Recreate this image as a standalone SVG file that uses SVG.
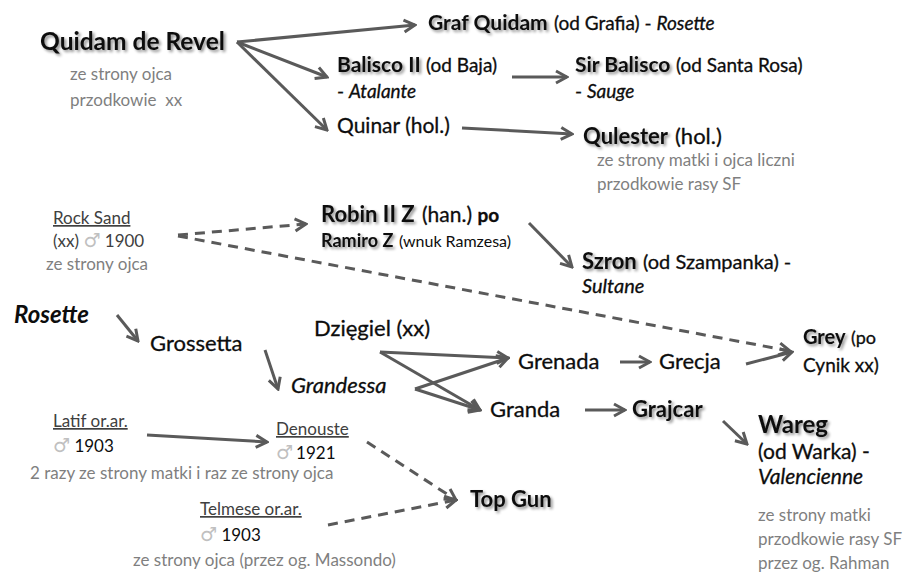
<svg xmlns="http://www.w3.org/2000/svg" width="903" height="573" viewBox="0 0 903 573">
<defs>
<filter id="sh" x="-5%" y="-20%" width="115%" height="150%">
<feGaussianBlur in="SourceAlpha" stdDeviation="1.4"/>
<feOffset dx="1.5" dy="1.5" result="b"/>
<feComponentTransfer><feFuncA type="linear" slope="0.45"/></feComponentTransfer>
<feMerge><feMergeNode/><feMergeNode in="SourceGraphic"/></feMerge>
</filter>
<marker id="ah" viewBox="0 0 16 16" refX="14" refY="8" markerWidth="16" markerHeight="16" markerUnits="userSpaceOnUse" orient="auto">
<path d="M3,2 L14,8 L3,14" fill="none" stroke="#5a5a5a" stroke-width="3"/>
</marker>
</defs>
<style>
text{font-family:Lato,"Open Sans","Liberation Sans",sans-serif;fill:#0d0d0d}
.r{stroke:#0d0d0d;stroke-width:0.3}
.b{font-weight:bold}
.sh{filter:url(#sh)}
.i{font-style:italic}
.g{fill:#7f7f7f;font-size:17px}
.dk{fill:#404040}
.m{fill:#c0c0c0;stroke:none;font-family:"DejaVu Sans",sans-serif;font-size:19px}
.u{text-decoration:underline}
.c line{stroke:#5a5a5a;stroke-width:3;fill:none;marker-end:url(#ah)}
.c .d{stroke-dasharray:10,7}
</style>
<rect width="903" height="573" fill="#fff"/>
<g class="c" id="connectors">
<line x1="237" y1="42" x2="415" y2="25"/>
<line x1="237" y1="42" x2="327" y2="77"/>
<line x1="237" y1="42" x2="327" y2="130"/>
<line x1="512" y1="77" x2="567" y2="77"/>
<line x1="462" y1="128" x2="572" y2="134"/>
<line class="d" x1="178" y1="235" x2="306" y2="224"/>
<line class="d" x1="178" y1="236" x2="790" y2="351"/>
<line x1="529" y1="223" x2="572" y2="267"/>
<line x1="117" y1="315" x2="138" y2="341"/>
<line x1="265" y1="350" x2="278" y2="389"/>
<line x1="380" y1="352" x2="508" y2="358"/>
<line x1="380" y1="352" x2="480" y2="410"/>
<line x1="415" y1="389" x2="508" y2="358"/>
<line x1="415" y1="389" x2="480" y2="410"/>
<line x1="620" y1="362" x2="650" y2="362"/>
<line x1="746" y1="364" x2="792" y2="352"/>
<line x1="585" y1="410" x2="625" y2="410"/>
<line x1="723" y1="421" x2="747" y2="444"/>
<line x1="147" y1="435" x2="267" y2="442"/>
<line class="d" x1="367" y1="442" x2="456" y2="500"/>
<line class="d" x1="328" y1="525" x2="456" y2="500"/>
</g>
<g id="quidam">
<text class="b sh" x="40" y="50" font-size="24.5">Quidam de Revel</text>
<text class="g" x="70" y="80">ze strony ojca</text>
<text class="g" x="70" y="106" xml:space="preserve">przodkowie  xx</text>
</g>
<g id="graf">
<text class="b sh" x="428" y="30" font-size="21">Graf Quidam</text>
<text class="r" x="554" y="30" font-size="19">(od Grafia) - <tspan class="i">Rosette</tspan></text>
</g>
<g id="balisco">
<text class="b sh" x="337" y="72" font-size="21">Balisco II</text>
<text class="r" x="426" y="72" font-size="19">(od Baja)</text>
<text class="r" x="337" y="98" font-size="19">- <tspan class="i">Atalante</tspan></text>
</g>
<g id="sirbalisco">
<text class="b sh" x="575" y="72" font-size="21">Sir Balisco</text>
<text class="r" x="676" y="72" font-size="19">(od Santa Rosa)</text>
<text class="r" x="575" y="98" font-size="19">- <tspan class="i">Sauge</tspan></text>
</g>
<g id="quinar">
<text class="r" x="337" y="133" font-size="21">Quinar (hol.)</text>
</g>
<g id="qulester">
<text class="b sh" x="583" y="144" font-size="22">Qulester</text>
<text class="r" x="675" y="144" font-size="22">(hol.)</text>
<text class="g" x="597" y="166">ze strony matki i ojca liczni</text>
<text class="g" x="597" y="190">przodkowie rasy SF</text>
</g>
<g id="rocksand">
<text class="u dk" x="53" y="224" font-size="17">Rock Sand</text>
<text class="dk" x="53" y="247" font-size="17">(xx) <tspan class="m">♂</tspan> 1900</text>
<text class="g" x="46" y="270">ze strony ojca</text>
</g>
<g id="robin">
<text class="b sh" x="321" y="222" font-size="22">Robin II Z</text>
<text class="r" x="422" y="222" font-size="21">(han.) <tspan class="b" font-size="19">po</tspan></text>
<text class="b sh" x="321" y="247" font-size="18">Ramiro Z</text>
<text x="399" y="247" font-size="16">(wnuk Ramzesa)</text>
</g>
<g id="szron">
<text class="b sh" x="582" y="269" font-size="22">Szron</text>
<text class="r" x="643" y="269" font-size="20">(od Szampanka) -</text>
<text class="i r" x="582" y="293" font-size="20">Sultane</text>
</g>
<g id="rosette">
<text class="b i" x="14" y="323" font-size="24">Rosette</text>
</g>
<g id="grossetta">
<text class="r" x="150" y="351" font-size="22">Grossetta</text>
</g>
<g id="dziegiel">
<text class="r" x="314" y="336" font-size="22">Dzięgiel (xx)</text>
</g>
<g id="grandessa">
<text class="i r" x="291" y="393" font-size="22">Grandessa</text>
</g>
<g id="grenada">
<text class="r" x="518" y="369" font-size="22">Grenada</text>
</g>
<g id="grecja">
<text class="r" x="659" y="369" font-size="22">Grecja</text>
</g>
<g id="grey">
<text class="b sh" x="803" y="344" font-size="20">Grey</text>
<text class="r" x="851" y="344" font-size="18">(po</text>
<text class="r" x="803" y="372" font-size="19">Cynik xx)</text>
</g>
<g id="granda">
<text class="r" x="490" y="417" font-size="22">Granda</text>
</g>
<g id="grajcar">
<text class="b sh" x="632" y="417" font-size="22">Grajcar</text>
</g>
<g id="wareg">
<text class="b sh" x="758" y="433" font-size="24">Wareg</text>
<text class="r" x="758" y="459" font-size="21">(od Warka) -</text>
<text class="i r" x="758" y="484" font-size="21">Valencienne</text>
<text class="g" x="758" y="521">ze strony matki</text>
<text class="g" x="758" y="545">przodkowie rasy SF</text>
<text class="g" x="758" y="569">przez og. Rahman</text>
</g>
<g id="latif">
<text class="u dk" x="53" y="427" font-size="17">Latif or.ar.</text>
<text x="53" y="452" font-size="17"><tspan class="m">♂</tspan> 1903</text>
<text class="g" x="30" y="479">2 razy ze strony matki i raz ze strony ojca</text>
</g>
<g id="denouste">
<text class="u dk" x="276" y="435" font-size="17">Denouste</text>
<text x="276" y="459" font-size="17"><tspan class="m">♂</tspan><tspan dx="3">1921</tspan></text>
</g>
<g id="topgun">
<text class="b sh" x="470" y="507" font-size="22">Top Gun</text>
</g>
<g id="telmese">
<text class="u dk" x="200" y="515" font-size="17">Telmese or.ar.</text>
<text x="200" y="541" font-size="17"><tspan class="m">♂</tspan> 1903</text>
<text class="g" x="133" y="566">ze strony ojca (przez og. Massondo)</text>
</g>
</svg>
